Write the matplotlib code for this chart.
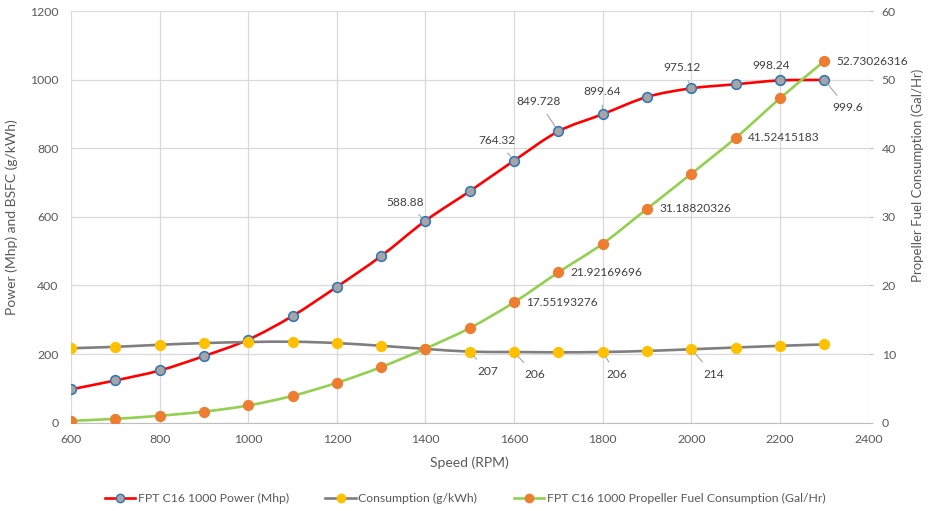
import numpy as np
import matplotlib
matplotlib.use("Agg")
import matplotlib.pyplot as plt
from matplotlib.path import Path
from matplotlib.patches import PathPatch
from matplotlib.lines import Line2D

# ─────────────────────────────────────────────
# DATA
# ─────────────────────────────────────────────
speed = [600, 700, 800, 900, 1000, 1100, 1200, 1300, 1400, 1500,
         1600, 1700, 1800, 1900, 2000, 2100, 2200, 2300]

power_mhp = [97, 123, 152, 194, 242, 311, 396, 486, 588.88, 675,
             764.32, 849.728, 899.64, 950, 975.12, 987, 998.24, 999.6]

bsfc = [217, 221, 227, 232, 235, 236, 232, 224, 215, 207,
        206, 205, 206, 209, 214, 219, 224, 228]

fuel_gph = [0.25, 0.55, 1.0, 1.6, 2.5, 3.9, 5.8, 8.1, 10.8, 13.8,
            17.55193276, 21.92169696, 26.1, 31.18820326, 36.3, 41.52415183,
            47.3, 52.73026316]

# labelled points: (index, text, offset px)
power_labels = [(8, "588.88", (-20, 18)), (10, "764.32", (-17, 20)),
                (11, "849.728", (-20, 30)), (12, "899.64", (-1, 23)),
                (14, "975.12", (-9, 21)), (16, "998.24", (-9, 15)),
                (17, "999.6", (23, -28))]
bsfc_labels = [(9, "207", (18, -20)), (10, "206", (21, -23)),
               (12, "206", (14, -23)), (14, "214", (22, -25))]
fuel_labels = [(10, "17.55193276"), (11, "21.92169696"), (13, "31.18820326"),
               (15, "41.52415183"), (17, "52.73026316")]

# ─────────────────────────────────────────────
# STYLE
# ─────────────────────────────────────────────
RED    = "#FF0000"
GRAY   = "#7F7F7F"
GREEN  = "#92D050"
ORANGE = "#ED7D31"
YELLOW = "#FFC000"
BLUE   = "#2E75B6"
MGRAY  = "#A5A5A5"
TXT    = "#595959"
GRID   = "#D9D9D9"

plt.rcParams.update({
    "font.family": ["Lato", "DejaVu Sans"],
    "font.size": 9,
    "text.color": TXT,
    "axes.labelcolor": TXT,
    "xtick.color": TXT,
    "ytick.color": TXT,
})


def smooth_path(x, y):
    # Bezier path through the data points (Excel-style smoothed line)
    x = np.asarray(x, float)
    y = np.asarray(y, float)
    verts = [(x[0], y[0])]
    codes = [Path.MOVETO]
    n = len(x)
    for i in range(n - 1):
        i0 = max(i - 1, 0)
        i3 = min(i + 2, n - 1)
        c1 = (x[i] + (x[i + 1] - x[i0]) / 6, y[i] + (y[i + 1] - y[i0]) / 6)
        c2 = (x[i + 1] - (x[i3] - x[i]) / 6, y[i + 1] - (y[i3] - y[i]) / 6)
        verts += [c1, c2, (x[i + 1], y[i + 1])]
        codes += [Path.CURVE4] * 3
    return Path(verts, codes)


def draw_series(ax, x, y, line_color, mfc, mec, z):
    ax.add_patch(PathPatch(smooth_path(x, y), fill=False, ec=line_color,
                           lw=1.9, zorder=z, capstyle="round"))
    ax.plot(x, y, ls="none", marker="o", ms=7, mfc=mfc, mec=mec,
            mew=1.1, zorder=z + 0.5)


fig = plt.figure(figsize=(9.30, 5.11), dpi=100)
ax = fig.add_axes([0.0763, 0.173, 0.8577, 0.805])
ax2 = ax.twinx()

draw_series(ax, speed, power_mhp, RED, MGRAY, BLUE, 3)
draw_series(ax, speed, bsfc, GRAY, YELLOW, YELLOW, 4)
draw_series(ax2, speed, fuel_gph, GREEN, ORANGE, ORANGE, 3)

ax.set_xlim(600, 2400)
ax.set_ylim(0, 1200)
ax2.set_ylim(0, 60)
ax.set_xticks(np.arange(600, 2401, 200))
ax.set_yticks(np.arange(0, 1201, 200))
ax2.set_yticks(np.arange(0, 61, 10))

ax.grid(True, color=GRID, lw=0.9)
ax.set_axisbelow(True)
for a in (ax, ax2):
    for s in a.spines.values():
        s.set_visible(False)
ax.spines["bottom"].set_visible(True)
ax.spines["bottom"].set_color("#BFBFBF")
ax.tick_params(axis="y", length=0, labelsize=8.8, pad=9)
ax.tick_params(axis="x", length=0, labelsize=8.8, pad=8.5)
ax2.tick_params(axis="y", length=3, color="#BFBFBF", labelsize=8.8, pad=6.5)

ax.set_xlabel("Speed (RPM)", fontsize=10, labelpad=8)
ax.set_ylabel("Power (Mhp) and BSFC (g/kWh)", fontsize=10)
ax.yaxis.set_label_coords(-0.066, 0.5)
ax2.set_ylabel("Propeller Fuel Consumption (Gal/Hr)", fontsize=9.5)
ax2.yaxis.set_label_coords(1.054, 0.60)

# ── data labels
arrow = dict(arrowstyle="-", color="#A6A6A6", lw=0.8, shrinkA=4, shrinkB=4)
for i, txt, off in power_labels:
    ax.annotate(txt, (speed[i], power_mhp[i]), xytext=off,
                textcoords="offset pixels", ha="center", va="center",
                fontsize=8.6, color="#404040", arrowprops=arrow, zorder=6)
for i, txt, off in bsfc_labels:
    ax.annotate(txt, (speed[i], bsfc[i]), xytext=off,
                textcoords="offset pixels", ha="center", va="center",
                fontsize=8.6, color="#404040", arrowprops=arrow, zorder=6)
for i, txt in fuel_labels:
    ax2.annotate(txt, (speed[i], fuel_gph[i]), xytext=(12, 0),
                 textcoords="offset pixels", ha="left", va="center",
                 fontsize=8.6, color="#404040", zorder=6)

# ── legend
handles = [
    Line2D([], [], color=RED, lw=1.9, marker="o", ms=6, mfc=MGRAY, mec=BLUE),
    Line2D([], [], color=GRAY, lw=1.9, marker="o", ms=6, mfc=YELLOW, mec=YELLOW),
    Line2D([], [], color=GREEN, lw=1.9, marker="o", ms=6, mfc=ORANGE, mec=ORANGE),
]
names = ["FPT C16 1000 Power (Mhp)", "Consumption (g/kWh)",
         "FPT C16 1000 Propeller Fuel Consumption (Gal/Hr)"]
fig.legend(handles, names, loc="center", bbox_to_anchor=(0.5, 0.024), ncol=3,
           frameon=False, fontsize=8.8, handlelength=2.5, handletextpad=0.2,
           columnspacing=3.0)

fig.savefig("out.png", dpi=100)
